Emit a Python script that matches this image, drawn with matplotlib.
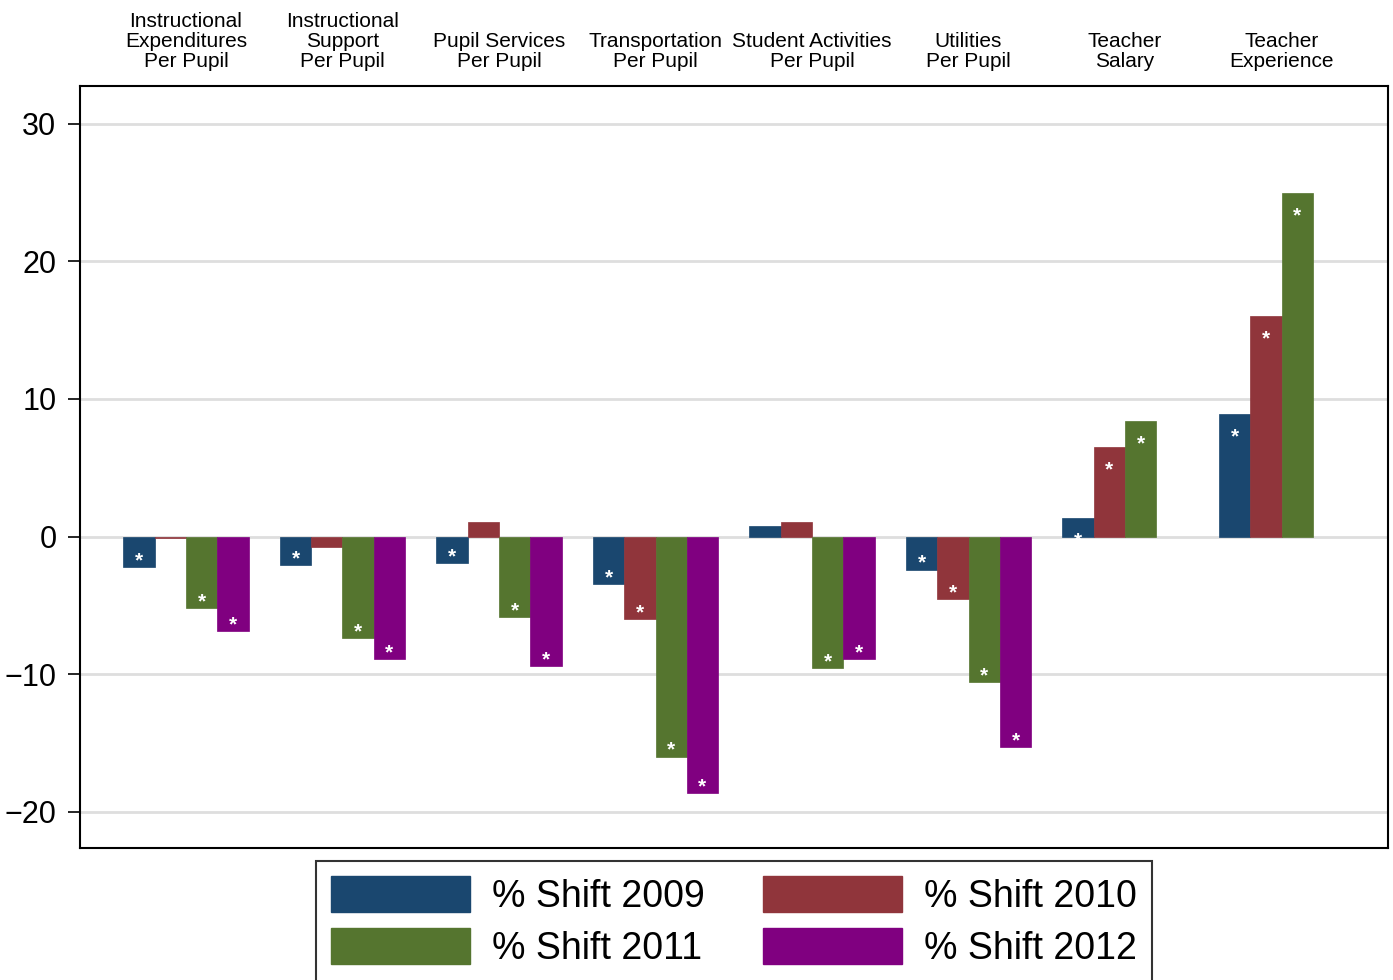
import matplotlib
matplotlib.use("Agg")
import matplotlib.pyplot as plt
import numpy as np
from matplotlib.patches import Patch

plt.rcParams['font.family'] = ['Liberation Sans', 'DejaVu Sans']

categories = ["Instructional\nExpenditures\nPer Pupil", "Instructional\nSupport\nPer Pupil",
              "Pupil Services\nPer Pupil", "Transportation\nPer Pupil",
              "Student Activities\nPer Pupil", "Utilities\nPer Pupil",
              "Teacher\nSalary", "Teacher\nExperience"]
series_names = ["% Shift 2009", "% Shift 2010", "% Shift 2011", "% Shift 2012"]
shift_2009 = [-2.2, -2.1, -1.9, -3.45, 0.75, -2.4, 1.35, 8.9]
shift_2010 = [-0.1, -0.75, 1.05, -6.0, 1.05, -4.55, 6.5, 16.0]
shift_2011 = [-5.2, -7.4, -5.85, -16.0, -9.55, -10.6, 8.4, 25.0]
shift_2012 = [-6.9, -8.9, -9.4, -18.65, -8.9, -15.3, None, None]
sig_2009 = [1, 1, 1, 1, 0, 1, 1, 1]
sig_2010 = [0, 0, 0, 1, 0, 1, 1, 1]
sig_2011 = [1, 1, 1, 1, 1, 1, 1, 1]
sig_2012 = [1, 1, 1, 1, 1, 1, 0, 0]
colors = ["#1a476f", "#90353b", "#55752f", "#800080"]

series = [shift_2009, shift_2010, shift_2011, shift_2012]
sigs = [sig_2009, sig_2010, sig_2011, sig_2012]

fig = plt.figure(figsize=(13.93, 9.80), dpi=100)
ax = fig.add_axes([80/1393, 1-848/980, (1388-80)/1393, (848-86)/980])

x = np.arange(len(categories))
w = 0.2
for i, (vals, sg, c) in enumerate(zip(series, sigs, colors)):
    offs = (i - 1.5) * w
    for xi, v, s in zip(x, vals, sg):
        if v is None:
            continue
        ax.bar(xi + offs, v, width=w, color=c, edgecolor=c, linewidth=0.5, zorder=3)
        if s:
            ty = v + 0.45 if v < 0 else v - 1.65
            ax.text(xi + offs, ty, "*", color="white", ha="center", va="center",
                    fontsize=15, fontweight="bold", zorder=4)

ax.set_xlim(-0.677, 7.68)
ax.set_ylim(-22.65, 32.76)
ax.set_yticks([-20, -10, 0, 10, 20, 30])
ax.set_yticklabels(["\u221220", "\u221210", "0", "10", "20", "30"])
ax.yaxis.grid(True, color="#dedede", linewidth=2.0, zorder=0)
ax.set_axisbelow(True)
ax.tick_params(axis='y', labelsize=22, length=9, width=1.2, direction='out', pad=8)
ax.xaxis.tick_top()
ax.set_xticks(x)
ax.set_xticklabels(categories, fontsize=15, linespacing=1.06)
ax.tick_params(axis='x', length=0, pad=11)
for sp in ax.spines.values():
    sp.set_linewidth(1.5)
    sp.set_color("black")

handles = [Patch(facecolor=c, edgecolor=c) for c in colors]
order = [0, 2, 1, 3]
leg = fig.legend([handles[i] for i in order], [series_names[i] for i in order],
                 loc='upper center', bbox_to_anchor=(734/1393, 1-861/980), ncol=2,
                 fontsize=27, handlelength=3.7, handleheight=1.1, handletextpad=0.6,
                 columnspacing=1.55, labelspacing=0.35, borderpad=0.4, borderaxespad=0,
                 frameon=True, fancybox=False, edgecolor="black")
leg.get_frame().set_linewidth(1.5)

fig.savefig("out.png", dpi=100)
